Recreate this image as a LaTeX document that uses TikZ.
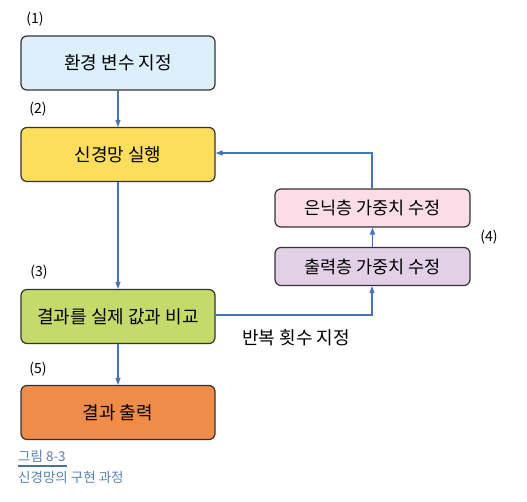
\documentclass[tikz,border=0pt]{standalone}
\usepackage{fontspec}
\newfontfamily\kr{Noto Sans CJK KR}
\usetikzlibrary{arrows.meta}
\definecolor{arr}{HTML}{4A72B8}
\definecolor{c1}{HTML}{DDEFFA}
\definecolor{c2}{HTML}{FDDD5C}
\definecolor{c3}{HTML}{C5DA6A}
\definecolor{c5}{HTML}{F08C4A}
\definecolor{c4a}{HTML}{FADDE6}
\definecolor{c4b}{HTML}{E2D0E6}
\definecolor{capline}{HTML}{4A6FA5}
\definecolor{capt}{HTML}{5A7FB5}
\begin{document}
\begin{tikzpicture}[x=1pt,y=-1pt,
  box/.style={draw=black!80, line width=1.2pt, rounded corners=6pt, minimum width=194pt, minimum height=54pt, font=\kr\fontsize{18}{20}\selectfont, inner sep=0pt},
  sbox/.style={box, minimum width=195pt, minimum height=38pt, font=\kr\fontsize{17.5}{19}\selectfont},
  con/.style={draw=arr, line width=1.1pt, -{Triangle[length=7pt,width=5pt]}},
  lab/.style={font=\kr\fontsize{14}{16}\selectfont}]
\useasboundingbox (0,0) rectangle (527,501);
\node[box, fill=c1] (b1) at (118,63) {환경 변수 지정};
\node[box, fill=c2] (b2) at (118,154.5) {신경망 실행};
\node[box, fill=c3] (b3) at (118,316.5) {결과를 실제 값과 비교};
\node[box, fill=c5] (b5) at (118,412.5) {결과 출력};
\node[sbox, fill=c4a] (b4a) at (372.5,208) {은닉층 가중치 수정};
\node[sbox, fill=c4b] (b4b) at (372.5,266.5) {출력층 가중치 수정};
\node[lab] (l1) at (35,19) {(1)};
\node[lab] (l2) at (38,109) {(2)};
\node[lab] (l3) at (39,272) {(3)};
\node[lab] (l4) at (489,237) {(4)};
\node[lab] (l5) at (38,369) {(5)};
\node[font=\kr\fontsize{18}{20}\selectfont] (rep) at (296,338) {반복 횟수 지정};
\coordinate (k1) at (372,315);
\coordinate (k2) at (372,153);
\draw[con] (b1) -- (b2);
\draw[con] (b2) -- (b3);
\draw[con] (b3) -- (b5);
\draw[con] (b4b) -- (b4a);
\draw[con] (b3.east |- k1) -- (k1) -- (b4b.south -| k1);
\draw[con] (b4a.north -| k2) -- (k2) -- (b2.east |- k2);
\node[anchor=west, text=capt, font=\kr\fontsize{13.5}{15}\selectfont, inner sep=0pt] (cp1) at (18,456) {그림 8-3};
\draw[capline, line width=1.6pt] (18,466) -- (67,466);
\node[anchor=west, text=capt, font=\kr\fontsize{13.5}{15}\selectfont, inner sep=0pt] (cp2) at (18,477) {신경망의 구현 과정};
\end{tikzpicture}
\end{document}
